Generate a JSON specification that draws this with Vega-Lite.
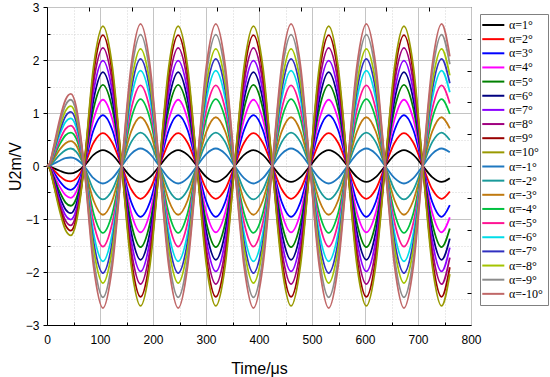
{
"$schema": "https://vega.github.io/schema/vega-lite/v6.json",
"width": 424, "height": 318,
"autosize": {"type": "none"},
"padding": {"left": 47, "top": 7, "right": 79, "bottom": 52},
"background": "white",
"config": {"view": {"stroke": "#000", "strokeWidth": 1}, "axis": {"labelFont": "Liberation Sans", "titleFont": "Liberation Sans", "labelColor": "#000", "titleColor": "#000", "domainColor": "#000", "tickColor": "#000"}},
"layer": [
{
"data": {"values": [
{"t":0,"a1":0,"a2":0,"a3":0,"a4":0,"a5":0,"a6":0,"a7":0,"a8":0,"a9":0,"a10":0,"n1":0,"n2":0,"n3":0,"n4":0,"n5":0,"n6":0,"n7":0,"n8":0,"n9":0,"n10":0},
{"t":5,"a1":-0.01,"a2":-0.01,"a3":-0.02,"a4":-0.02,"a5":-0.03,"a6":-0.04,"a7":-0.04,"a8":-0.04,"a9":-0.05,"a10":-0.05,"n1":0.01,"n2":0.01,"n3":0.02,"n4":0.03,"n5":0.03,"n6":0.04,"n7":0.04,"n8":0.05,"n9":0.05,"n10":0.05},
{"t":12,"a1":-0.04,"a2":-0.07,"a3":-0.11,"a4":-0.15,"a5":-0.19,"a6":-0.22,"a7":-0.25,"a8":-0.28,"a9":-0.31,"a10":-0.33,"n1":0.04,"n2":0.08,"n3":0.12,"n4":0.16,"n5":0.19,"n6":0.23,"n7":0.26,"n8":0.28,"n9":0.31,"n10":0.34},
{"t":24,"a1":-0.09,"a2":-0.19,"a3":-0.29,"a4":-0.39,"a5":-0.49,"a6":-0.58,"a7":-0.66,"a8":-0.73,"a9":-0.79,"a10":-0.85,"n1":0.1,"n2":0.21,"n3":0.31,"n4":0.41,"n5":0.49,"n6":0.59,"n7":0.66,"n8":0.73,"n9":0.81,"n10":0.88},
{"t":35,"a1":-0.13,"a2":-0.27,"a3":-0.41,"a4":-0.55,"a5":-0.69,"a6":-0.82,"a7":-0.93,"a8":-1.03,"a9":-1.12,"a10":-1.21,"n1":0.15,"n2":0.3,"n3":0.43,"n4":0.58,"n5":0.7,"n6":0.83,"n7":0.94,"n8":1.04,"n9":1.15,"n10":1.25},
{"t":45,"a1":-0.14,"a2":-0.29,"a3":-0.45,"a4":-0.6,"a5":-0.75,"a6":-0.89,"a7":-1.01,"a8":-1.12,"a9":-1.22,"a10":-1.31,"n1":0.16,"n2":0.33,"n3":0.47,"n4":0.63,"n5":0.76,"n6":0.9,"n7":1.02,"n8":1.13,"n9":1.25,"n10":1.36},
{"t":55,"a1":-0.11,"a2":-0.24,"a3":-0.37,"a4":-0.49,"a5":-0.62,"a6":-0.73,"a7":-0.83,"a8":-0.92,"a9":-1,"a10":-1.07,"n1":0.13,"n2":0.27,"n3":0.39,"n4":0.52,"n5":0.62,"n6":0.74,"n7":0.84,"n8":0.93,"n9":1.03,"n10":1.12},
{"t":63,"a1":-0.06,"a2":-0.13,"a3":-0.2,"a4":-0.27,"a5":-0.34,"a6":-0.4,"a7":-0.45,"a8":-0.5,"a9":-0.55,"a10":-0.59,"n1":0.07,"n2":0.15,"n3":0.21,"n4":0.28,"n5":0.34,"n6":0.41,"n7":0.46,"n8":0.51,"n9":0.56,"n10":0.61},
{"t":70,"a1":0,"a2":0,"a3":0,"a4":0,"a5":0,"a6":0,"a7":0,"a8":0,"a9":0,"a10":0,"n1":0,"n2":0,"n3":0,"n4":0,"n5":0,"n6":0,"n7":0,"n8":0,"n9":0,"n10":0},
{"t":87.8,"a1":0.21,"a2":0.44,"a3":0.68,"a4":0.88,"a5":1.08,"a6":1.25,"a7":1.41,"a8":1.58,"a9":1.75,"a10":1.87,"n1":-0.23,"n2":-0.45,"n3":-0.65,"n4":-0.89,"n5":-1.07,"n6":-1.27,"n7":-1.43,"n8":-1.56,"n9":-1.75,"n10":-1.89},
{"t":105.5,"a1":0.3,"a2":0.62,"a3":0.96,"a4":1.25,"a5":1.53,"a6":1.77,"a7":1.99,"a8":2.23,"a9":2.47,"a10":2.64,"n1":-0.33,"n2":-0.63,"n3":-0.92,"n4":-1.26,"n5":-1.52,"n6":-1.8,"n7":-2.02,"n8":-2.21,"n9":-2.48,"n10":-2.68},
{"t":123.3,"a1":0.21,"a2":0.44,"a3":0.68,"a4":0.88,"a5":1.08,"a6":1.25,"a7":1.41,"a8":1.58,"a9":1.75,"a10":1.87,"n1":-0.23,"n2":-0.45,"n3":-0.65,"n4":-0.89,"n5":-1.07,"n6":-1.27,"n7":-1.43,"n8":-1.56,"n9":-1.75,"n10":-1.89},
{"t":141,"a1":0,"a2":0,"a3":0,"a4":0,"a5":0,"a6":0,"a7":0,"a8":0,"a9":0,"a10":0,"n1":0,"n2":0,"n3":0,"n4":0,"n5":0,"n6":0,"n7":0,"n8":0,"n9":0,"n10":0},
{"t":158.8,"a1":-0.21,"a2":-0.44,"a3":-0.68,"a4":-0.88,"a5":-1.08,"a6":-1.25,"a7":-1.41,"a8":-1.58,"a9":-1.75,"a10":-1.87,"n1":0.23,"n2":0.45,"n3":0.65,"n4":0.89,"n5":1.07,"n6":1.27,"n7":1.43,"n8":1.56,"n9":1.75,"n10":1.89},
{"t":176.5,"a1":-0.3,"a2":-0.62,"a3":-0.96,"a4":-1.25,"a5":-1.53,"a6":-1.77,"a7":-1.99,"a8":-2.23,"a9":-2.47,"a10":-2.64,"n1":0.33,"n2":0.63,"n3":0.92,"n4":1.26,"n5":1.52,"n6":1.8,"n7":2.02,"n8":2.21,"n9":2.48,"n10":2.68},
{"t":194.3,"a1":-0.21,"a2":-0.44,"a3":-0.68,"a4":-0.88,"a5":-1.08,"a6":-1.25,"a7":-1.41,"a8":-1.58,"a9":-1.75,"a10":-1.87,"n1":0.23,"n2":0.45,"n3":0.65,"n4":0.89,"n5":1.07,"n6":1.27,"n7":1.43,"n8":1.56,"n9":1.75,"n10":1.89},
{"t":212,"a1":0,"a2":0,"a3":0,"a4":0,"a5":0,"a6":0,"a7":0,"a8":0,"a9":0,"a10":0,"n1":0,"n2":0,"n3":0,"n4":0,"n5":0,"n6":0,"n7":0,"n8":0,"n9":0,"n10":0},
{"t":229.8,"a1":0.21,"a2":0.44,"a3":0.68,"a4":0.88,"a5":1.08,"a6":1.25,"a7":1.41,"a8":1.58,"a9":1.75,"a10":1.87,"n1":-0.23,"n2":-0.45,"n3":-0.65,"n4":-0.89,"n5":-1.07,"n6":-1.27,"n7":-1.43,"n8":-1.56,"n9":-1.75,"n10":-1.89},
{"t":247.5,"a1":0.3,"a2":0.62,"a3":0.96,"a4":1.25,"a5":1.53,"a6":1.77,"a7":1.99,"a8":2.23,"a9":2.47,"a10":2.64,"n1":-0.33,"n2":-0.63,"n3":-0.92,"n4":-1.26,"n5":-1.52,"n6":-1.8,"n7":-2.02,"n8":-2.21,"n9":-2.48,"n10":-2.68},
{"t":265.3,"a1":0.21,"a2":0.44,"a3":0.68,"a4":0.88,"a5":1.08,"a6":1.25,"a7":1.41,"a8":1.58,"a9":1.75,"a10":1.87,"n1":-0.23,"n2":-0.45,"n3":-0.65,"n4":-0.89,"n5":-1.07,"n6":-1.27,"n7":-1.43,"n8":-1.56,"n9":-1.75,"n10":-1.89},
{"t":283,"a1":0,"a2":0,"a3":0,"a4":0,"a5":0,"a6":0,"a7":0,"a8":0,"a9":0,"a10":0,"n1":0,"n2":0,"n3":0,"n4":0,"n5":0,"n6":0,"n7":0,"n8":0,"n9":0,"n10":0},
{"t":300.8,"a1":-0.21,"a2":-0.44,"a3":-0.68,"a4":-0.88,"a5":-1.08,"a6":-1.25,"a7":-1.41,"a8":-1.58,"a9":-1.75,"a10":-1.87,"n1":0.23,"n2":0.45,"n3":0.65,"n4":0.89,"n5":1.07,"n6":1.27,"n7":1.43,"n8":1.56,"n9":1.75,"n10":1.89},
{"t":318.5,"a1":-0.3,"a2":-0.62,"a3":-0.96,"a4":-1.25,"a5":-1.53,"a6":-1.77,"a7":-1.99,"a8":-2.23,"a9":-2.47,"a10":-2.64,"n1":0.33,"n2":0.63,"n3":0.92,"n4":1.26,"n5":1.52,"n6":1.8,"n7":2.02,"n8":2.21,"n9":2.48,"n10":2.68},
{"t":336.3,"a1":-0.21,"a2":-0.44,"a3":-0.68,"a4":-0.88,"a5":-1.08,"a6":-1.25,"a7":-1.41,"a8":-1.58,"a9":-1.75,"a10":-1.87,"n1":0.23,"n2":0.45,"n3":0.65,"n4":0.89,"n5":1.07,"n6":1.27,"n7":1.43,"n8":1.56,"n9":1.75,"n10":1.89},
{"t":354,"a1":0,"a2":0,"a3":0,"a4":0,"a5":0,"a6":0,"a7":0,"a8":0,"a9":0,"a10":0,"n1":0,"n2":0,"n3":0,"n4":0,"n5":0,"n6":0,"n7":0,"n8":0,"n9":0,"n10":0},
{"t":371.8,"a1":0.21,"a2":0.44,"a3":0.68,"a4":0.88,"a5":1.08,"a6":1.25,"a7":1.41,"a8":1.58,"a9":1.75,"a10":1.87,"n1":-0.23,"n2":-0.45,"n3":-0.65,"n4":-0.89,"n5":-1.07,"n6":-1.27,"n7":-1.43,"n8":-1.56,"n9":-1.75,"n10":-1.89},
{"t":389.5,"a1":0.3,"a2":0.62,"a3":0.96,"a4":1.25,"a5":1.53,"a6":1.77,"a7":1.99,"a8":2.23,"a9":2.47,"a10":2.64,"n1":-0.33,"n2":-0.63,"n3":-0.92,"n4":-1.26,"n5":-1.52,"n6":-1.8,"n7":-2.02,"n8":-2.21,"n9":-2.48,"n10":-2.68},
{"t":407.3,"a1":0.21,"a2":0.44,"a3":0.68,"a4":0.88,"a5":1.08,"a6":1.25,"a7":1.41,"a8":1.58,"a9":1.75,"a10":1.87,"n1":-0.23,"n2":-0.45,"n3":-0.65,"n4":-0.89,"n5":-1.07,"n6":-1.27,"n7":-1.43,"n8":-1.56,"n9":-1.75,"n10":-1.89},
{"t":425,"a1":0,"a2":0,"a3":0,"a4":0,"a5":0,"a6":0,"a7":0,"a8":0,"a9":0,"a10":0,"n1":0,"n2":0,"n3":0,"n4":0,"n5":0,"n6":0,"n7":0,"n8":0,"n9":0,"n10":0},
{"t":442.8,"a1":-0.21,"a2":-0.44,"a3":-0.68,"a4":-0.88,"a5":-1.08,"a6":-1.25,"a7":-1.41,"a8":-1.58,"a9":-1.75,"a10":-1.87,"n1":0.23,"n2":0.45,"n3":0.65,"n4":0.89,"n5":1.07,"n6":1.27,"n7":1.43,"n8":1.56,"n9":1.75,"n10":1.89},
{"t":460.5,"a1":-0.3,"a2":-0.62,"a3":-0.96,"a4":-1.25,"a5":-1.53,"a6":-1.77,"a7":-1.99,"a8":-2.23,"a9":-2.47,"a10":-2.64,"n1":0.33,"n2":0.63,"n3":0.92,"n4":1.26,"n5":1.52,"n6":1.8,"n7":2.02,"n8":2.21,"n9":2.48,"n10":2.68},
{"t":478.3,"a1":-0.21,"a2":-0.44,"a3":-0.68,"a4":-0.88,"a5":-1.08,"a6":-1.25,"a7":-1.41,"a8":-1.58,"a9":-1.75,"a10":-1.87,"n1":0.23,"n2":0.45,"n3":0.65,"n4":0.89,"n5":1.07,"n6":1.27,"n7":1.43,"n8":1.56,"n9":1.75,"n10":1.89},
{"t":496,"a1":0,"a2":0,"a3":0,"a4":0,"a5":0,"a6":0,"a7":0,"a8":0,"a9":0,"a10":0,"n1":0,"n2":0,"n3":0,"n4":0,"n5":0,"n6":0,"n7":0,"n8":0,"n9":0,"n10":0},
{"t":513.8,"a1":0.21,"a2":0.44,"a3":0.68,"a4":0.88,"a5":1.08,"a6":1.25,"a7":1.41,"a8":1.58,"a9":1.75,"a10":1.87,"n1":-0.23,"n2":-0.45,"n3":-0.65,"n4":-0.89,"n5":-1.07,"n6":-1.27,"n7":-1.43,"n8":-1.56,"n9":-1.75,"n10":-1.89},
{"t":531.5,"a1":0.3,"a2":0.62,"a3":0.96,"a4":1.25,"a5":1.53,"a6":1.77,"a7":1.99,"a8":2.23,"a9":2.47,"a10":2.64,"n1":-0.33,"n2":-0.63,"n3":-0.92,"n4":-1.26,"n5":-1.52,"n6":-1.8,"n7":-2.02,"n8":-2.21,"n9":-2.48,"n10":-2.68},
{"t":549.3,"a1":0.21,"a2":0.44,"a3":0.68,"a4":0.88,"a5":1.08,"a6":1.25,"a7":1.41,"a8":1.58,"a9":1.75,"a10":1.87,"n1":-0.23,"n2":-0.45,"n3":-0.65,"n4":-0.89,"n5":-1.07,"n6":-1.27,"n7":-1.43,"n8":-1.56,"n9":-1.75,"n10":-1.89},
{"t":567,"a1":0,"a2":0,"a3":0,"a4":0,"a5":0,"a6":0,"a7":0,"a8":0,"a9":0,"a10":0,"n1":0,"n2":0,"n3":0,"n4":0,"n5":0,"n6":0,"n7":0,"n8":0,"n9":0,"n10":0},
{"t":584.8,"a1":-0.21,"a2":-0.44,"a3":-0.68,"a4":-0.88,"a5":-1.08,"a6":-1.25,"a7":-1.41,"a8":-1.58,"a9":-1.75,"a10":-1.87,"n1":0.23,"n2":0.45,"n3":0.65,"n4":0.89,"n5":1.07,"n6":1.27,"n7":1.43,"n8":1.56,"n9":1.75,"n10":1.89},
{"t":602.5,"a1":-0.3,"a2":-0.62,"a3":-0.96,"a4":-1.25,"a5":-1.53,"a6":-1.77,"a7":-1.99,"a8":-2.23,"a9":-2.47,"a10":-2.64,"n1":0.33,"n2":0.63,"n3":0.92,"n4":1.26,"n5":1.52,"n6":1.8,"n7":2.02,"n8":2.21,"n9":2.48,"n10":2.68},
{"t":620.3,"a1":-0.21,"a2":-0.44,"a3":-0.68,"a4":-0.88,"a5":-1.08,"a6":-1.25,"a7":-1.41,"a8":-1.58,"a9":-1.75,"a10":-1.87,"n1":0.23,"n2":0.45,"n3":0.65,"n4":0.89,"n5":1.07,"n6":1.27,"n7":1.43,"n8":1.56,"n9":1.75,"n10":1.89},
{"t":638,"a1":0,"a2":0,"a3":0,"a4":0,"a5":0,"a6":0,"a7":0,"a8":0,"a9":0,"a10":0,"n1":0,"n2":0,"n3":0,"n4":0,"n5":0,"n6":0,"n7":0,"n8":0,"n9":0,"n10":0},
{"t":655.8,"a1":0.21,"a2":0.44,"a3":0.68,"a4":0.88,"a5":1.08,"a6":1.25,"a7":1.41,"a8":1.58,"a9":1.75,"a10":1.87,"n1":-0.23,"n2":-0.45,"n3":-0.65,"n4":-0.89,"n5":-1.07,"n6":-1.27,"n7":-1.43,"n8":-1.56,"n9":-1.75,"n10":-1.89},
{"t":673.5,"a1":0.3,"a2":0.62,"a3":0.96,"a4":1.25,"a5":1.53,"a6":1.77,"a7":1.99,"a8":2.23,"a9":2.47,"a10":2.64,"n1":-0.33,"n2":-0.63,"n3":-0.92,"n4":-1.26,"n5":-1.52,"n6":-1.8,"n7":-2.02,"n8":-2.21,"n9":-2.48,"n10":-2.68},
{"t":691.3,"a1":0.21,"a2":0.44,"a3":0.68,"a4":0.88,"a5":1.08,"a6":1.25,"a7":1.41,"a8":1.58,"a9":1.75,"a10":1.87,"n1":-0.23,"n2":-0.45,"n3":-0.65,"n4":-0.89,"n5":-1.07,"n6":-1.27,"n7":-1.43,"n8":-1.56,"n9":-1.75,"n10":-1.89},
{"t":709,"a1":0,"a2":0,"a3":0,"a4":0,"a5":0,"a6":0,"a7":0,"a8":0,"a9":0,"a10":0,"n1":0,"n2":0,"n3":0,"n4":0,"n5":0,"n6":0,"n7":0,"n8":0,"n9":0,"n10":0},
{"t":726.8,"a1":-0.21,"a2":-0.44,"a3":-0.68,"a4":-0.88,"a5":-1.08,"a6":-1.25,"a7":-1.41,"a8":-1.58,"a9":-1.75,"a10":-1.87,"n1":0.23,"n2":0.45,"n3":0.65,"n4":0.89,"n5":1.07,"n6":1.27,"n7":1.43,"n8":1.56,"n9":1.75,"n10":1.89},
{"t":744.5,"a1":-0.3,"a2":-0.62,"a3":-0.96,"a4":-1.25,"a5":-1.53,"a6":-1.77,"a7":-1.99,"a8":-2.23,"a9":-2.47,"a10":-2.64,"n1":0.33,"n2":0.63,"n3":0.92,"n4":1.26,"n5":1.52,"n6":1.8,"n7":2.02,"n8":2.21,"n9":2.48,"n10":2.68},
{"t":760,"a1":-0.23,"a2":-0.48,"a3":-0.74,"a4":-0.97,"a5":-1.18,"a6":-1.37,"a7":-1.54,"a8":-1.73,"a9":-1.91,"a10":-2.04,"n1":0.26,"n2":0.49,"n3":0.71,"n4":0.98,"n5":1.18,"n6":1.39,"n7":1.56,"n8":1.71,"n9":1.92,"n10":2.07}
]},
"transform": [{"fold": ["a1","a2","a3","a4","a5","a6","a7","a8","a9","a10","n1","n2","n3","n4","n5","n6","n7","n8","n9","n10"], "as": ["series", "v"]}],
"mark": {"type": "line", "interpolate": "monotone", "strokeWidth": 1.8},
"encoding": {
"x": {"field": "t", "type": "quantitative", "scale": {"domain": [0, 800], "nice": false}, "axis": {"orient": "bottom", "values": [0,100,200,300,400,500,600,700,800], "title": "Time/μs", "titleFontSize": 16, "titleFontWeight": "normal", "titlePadding": 15, "labelFontSize": 12, "labelPadding": 9, "labelFlush": false, "ticks": false, "grid": true, "gridColor": "#c4c4c4", "gridWidth": 1}},
"y": {"field": "v", "type": "quantitative", "scale": {"domain": [-3, 3], "nice": false}, "axis": {"orient": "left", "values": [-3,-2,-1,0,1,2,3], "title": "U2m/V", "titleFontSize": 16, "titleFontWeight": "normal", "titlePadding": 2, "labelFontSize": 12, "labelPadding": 4, "tickSize": 4, "labelFlush": false, "grid": true, "gridColor": "#c4c4c4", "gridWidth": 1}},
"color": {"field": "series", "type": "nominal", "scale": {"domain": ["a1","a2","a3","a4","a5","a6","a7","a8","a9","a10","n1","n2","n3","n4","n5","n6","n7","n8","n9","n10"], "range": ["#000000","#ff0000","#0000ff","#ff00ff","#008000","#000080","#8b00ff","#a0007f","#990000","#999900","#1f78c0","#1a9a9a","#c07a10","#00c040","#ff1493","#00dde8","#3030c0","#a4c400","#8c8c8c","#c06868"]}, "legend": {"orient": "none", "legendX": 433, "legendY": 7, "title": null, "strokeColor": "#808080", "fillColor": "#ffffff", "padding": 5, "symbolType": "M-3,0H3", "symbolSize": 54, "symbolStrokeWidth": 2, "symbolOffset": 2.3, "labelFont": "Liberation Serif", "labelFontSize": 12, "labelColor": "#000", "rowPadding": 2.15, "labelOffset": 9.6, "labelExpr": "'α=' + (substring(datum.label,0,1) == 'n' ? '-' : '') + substring(datum.label,1) + '°'"}}
}
},
{
"data": {"values": [{"t": 0, "v": 0}]},
"mark": {"type": "point", "opacity": 0},
"encoding": {
"x": {"field": "t", "type": "quantitative", "scale": {"domain": [0, 800], "nice": false}, "axis": {"orient": "bottom", "values": [50,150,250,350,450,550,650,750], "title": null, "labels": false, "domain": false, "tickSize": -3, "grid": true, "gridColor": "#d4d4d4", "gridDash": [1, 2]}},
"y": {"field": "v", "type": "quantitative", "scale": {"domain": [-3, 3], "nice": false}, "axis": {"orient": "left", "values": [-2.5,-1.5,-0.5,0.5,1.5,2.5], "title": null, "labels": false, "domain": false, "tickSize": -3, "grid": true, "gridColor": "#d4d4d4", "gridDash": [1, 2]}}
}
},
{
"data": {"values": [{"t": 0, "v": 0}]},
"mark": {"type": "point", "opacity": 0},
"encoding": {
"x": {"field": "t", "type": "quantitative", "scale": {"domain": [0, 800], "nice": false}, "axis": {"orient": "top", "values": [80,160,240,320,400,480,560,640,720], "title": null, "labels": false, "domain": false, "tickSize": -4, "grid": false}},
"y": {"field": "v", "type": "quantitative", "scale": {"domain": [-3, 3], "nice": false}, "axis": {"orient": "right", "values": [-2.4,-1.8,-1.2,-0.6,0,0.6,1.2,1.8,2.4], "title": null, "labels": false, "domain": false, "tickSize": -4, "grid": false}}
}
}
],
"resolve": {"axis": {"x": "independent", "y": "independent"}}
}
